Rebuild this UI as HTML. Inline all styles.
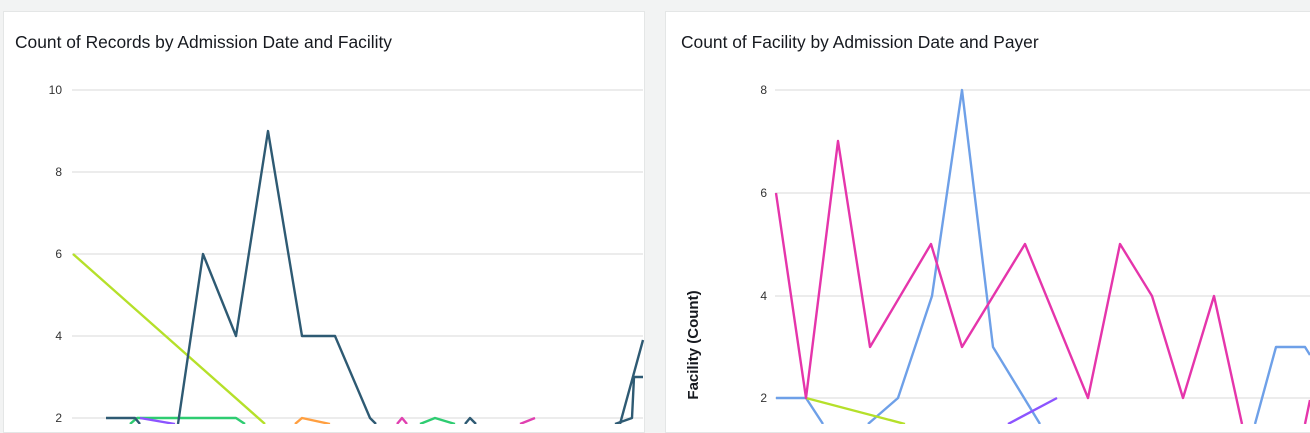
<!DOCTYPE html>
<html><head><style>
html,body{margin:0;padding:0;background:#f2f3f3;width:1310px;height:424px;overflow:hidden;font-family:"Liberation Sans",sans-serif}
.card{position:absolute;top:11px;height:420px;background:#fff;border:1px solid #e4e6e6}
.t{position:absolute;font-size:17.4px;color:#16191f;line-height:20px}
</style></head><body>
<div class="card" style="left:3px;width:640px"></div>
<div class="card" style="left:665px;width:650px"></div>
<div class="t" style="left:15px;top:32px">Count of Records by Admission Date and Facility</div>
<div class="t" style="left:681px;top:32px">Count of Facility by Admission Date and Payer</div>
<svg width="1310" height="424" style="position:absolute;left:0;top:0" font-family="Liberation Sans, sans-serif" font-size="12" fill="#333">
<g stroke="#e6e6e6" stroke-width="1.5">
<line x1="72" x2="643" y1="90" y2="90"/><line x1="72" x2="643" y1="172" y2="172"/><line x1="72" x2="643" y1="254" y2="254"/><line x1="72" x2="643" y1="336" y2="336"/><line x1="72" x2="643" y1="418" y2="418"/>
<line x1="775" x2="1310" y1="90" y2="90"/><line x1="775" x2="1310" y1="193" y2="193"/><line x1="775" x2="1310" y1="296" y2="296"/><line x1="775" x2="1310" y1="398" y2="398"/>
</g>
<g text-anchor="end">
<text x="62" y="94">10</text><text x="62" y="176">8</text><text x="62" y="258">6</text><text x="62" y="340">4</text><text x="62" y="422">2</text>
<text x="767" y="94">8</text><text x="767" y="197">6</text><text x="767" y="300">4</text><text x="767" y="402">2</text>
</g>
<text transform="translate(698,345) rotate(-90)" text-anchor="middle" font-size="15" font-weight="bold" fill="#16191f">Facility (Count)</text>
<g fill="none" stroke-width="2.4" stroke-linejoin="round">
<polyline stroke="#b5e02a" points="73,254 265,424"/>
<polyline stroke="#2ecc71" points="130,424 137,418 236,418 245,424"/>
<polyline stroke="#2ecc71" points="420,424 435,418 455,424"/>
<polyline stroke="#8c54ff" points="140,418 175,424"/>
<polyline stroke="#ff9f40" points="295,424 302,418 330,424"/>
<polyline stroke="#e040b0" points="397,424 402,418 407,424"/>
<polyline stroke="#e040b0" points="520,424 535,418"/>
<polyline stroke="#2e5a73" points="106,418 135,418 140,424"/>
<polyline stroke="#2e5a73" points="178,424 203,254 236,336 268,131 302,336 335,336 370,418 376,424"/>
<polyline stroke="#2e5a73" points="465,424 470,418 476,424"/>
<polyline stroke="#2e5a73" points="615,424 632,418 634,377 643,377"/>
<polyline stroke="#2e5a73" points="620,424 643,340"/>
<polyline stroke="#6ea0e8" points="776,398 806,398 823,424"/>
<polyline stroke="#6ea0e8" points="868,424 898,398 932,296 962,90 993,347 1040,424"/>
<polyline stroke="#6ea0e8" points="1255,424 1276,347 1305,347 1310,355"/>
<polyline stroke="#b5e02a" points="806,398 905,424"/>
<polyline stroke="#8c54ff" points="1008,424 1057,398"/>
<polyline stroke="#e535ab" points="776,193 806,398 838,141 870,347 931,244 962,347 1025,244 1088,398 1120,244 1152,296 1183,398 1214,296 1242,424"/>
<polyline stroke="#e535ab" points="1305,424 1310,400"/>
</g>
</svg>
</body></html>
